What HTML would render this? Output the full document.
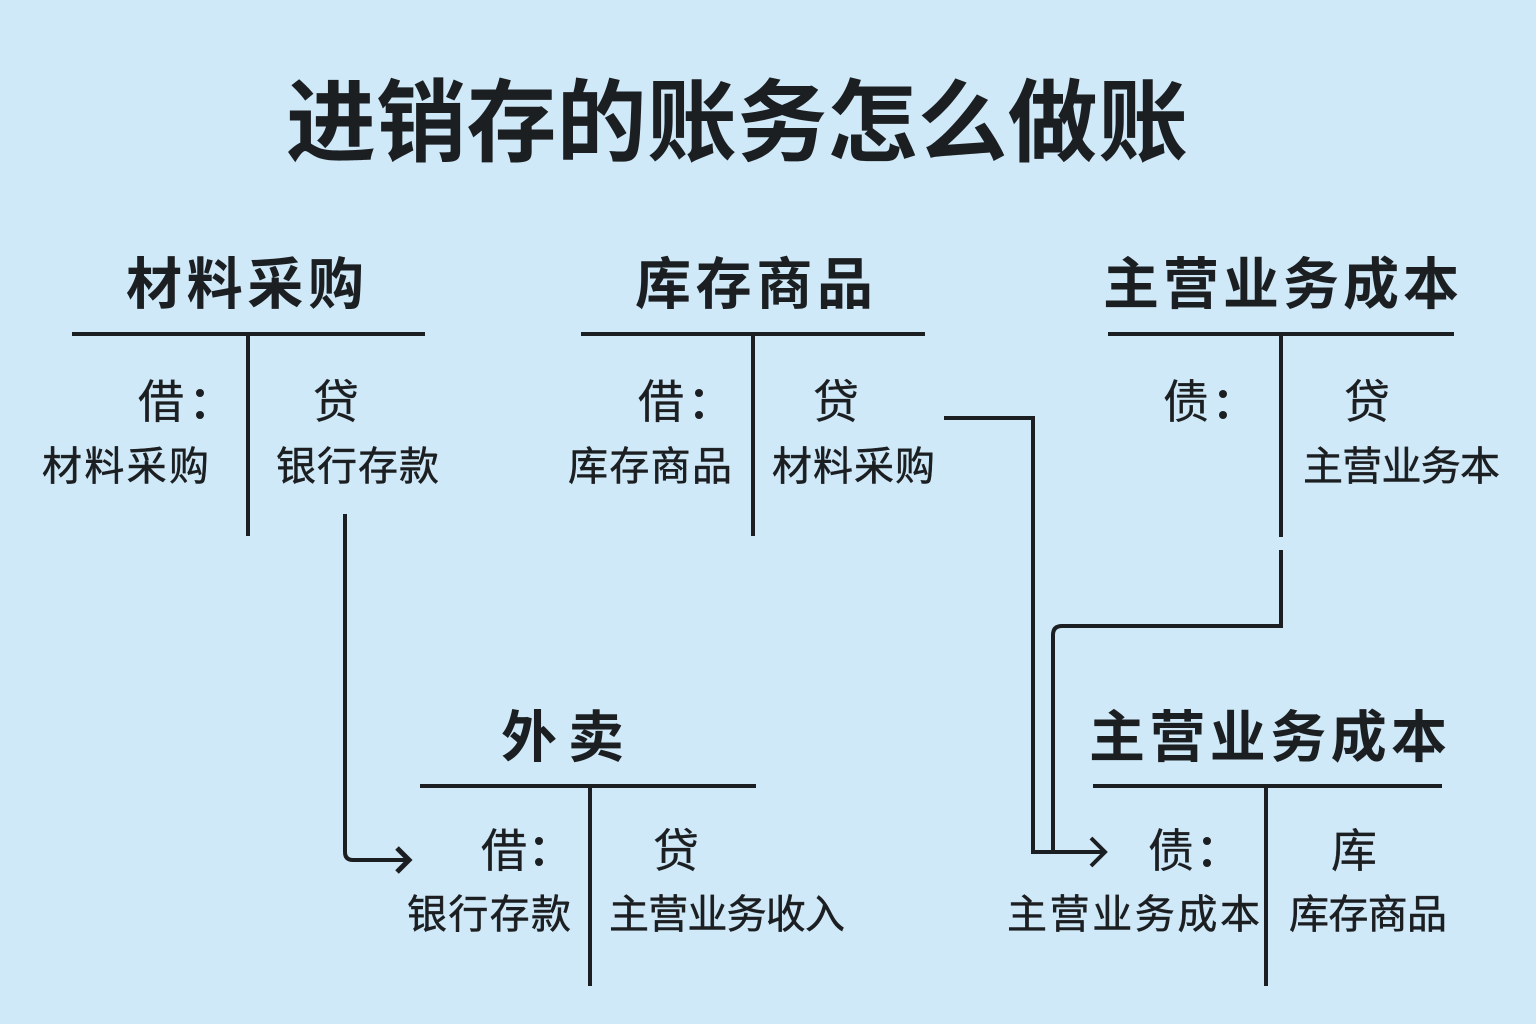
<!DOCTYPE html>
<html lang="zh">
<head>
<meta charset="utf-8">
<title>进销存的账务怎么做账</title>
<style>
html,body{margin:0;padding:0;width:1536px;height:1024px;overflow:hidden;background:#cfe9f8}
svg{display:block}
text{font-family:"Liberation Sans","Noto Sans CJK SC",sans-serif;fill:#1c1f22}
.t{font-size:90px;font-weight:700}
.h{font-size:56px;font-weight:700}
.m{font-size:46px;font-weight:400;stroke:#1c1f22;stroke-width:.3}
.b{font-size:40px;font-weight:400;stroke:#1c1f22;stroke-width:.5}
.l{fill:none;stroke:#1c1f22;stroke-width:4}
.d{fill:#1c1f22}
</style>
</head>
<body>
<svg xmlns="http://www.w3.org/2000/svg" width="1536" height="1024" viewBox="0 0 1536 1024">
<rect width="1536" height="1024" fill="#cfe9f8"/>

<text class="t" x="286" y="154" textLength="902" lengthAdjust="spacing">进销存的账务怎么做账</text>

<text class="h" x="126" y="304" textLength="238" lengthAdjust="spacing">材料采购</text>
<path class="l" d="M72 334H425M248 334V536"/>
<text class="m" x="138" y="418">借</text>
<circle class="d" cx="200" cy="393" r="4"/><circle class="d" cx="200" cy="415" r="4"/>
<text class="m" x="313" y="418">贷</text>
<text class="b" x="42" y="480" textLength="167" lengthAdjust="spacing">材料采购</text>
<text class="b" x="276" y="480" textLength="163" lengthAdjust="spacing">银行存款</text>

<text class="h" x="635" y="304" textLength="238" lengthAdjust="spacing">库存商品</text>
<path class="l" d="M581 334H925M753 334V536"/>
<text class="m" x="638" y="418">借</text>
<circle class="d" cx="699" cy="393" r="4"/><circle class="d" cx="699" cy="415" r="4"/>
<text class="m" x="813" y="418">贷</text>
<text class="b" x="568" y="480" textLength="164" lengthAdjust="spacing">库存商品</text>
<text class="b" x="772" y="480" textLength="163" lengthAdjust="spacing">材料采购</text>

<text class="h" x="1103" y="304" textLength="356" lengthAdjust="spacing">主营业务成本</text>
<path class="l" d="M1108 334H1454M1281 334V537"/>
<text class="m" x="1163" y="418">债</text>
<circle class="d" cx="1223" cy="394" r="4"/><circle class="d" cx="1223" cy="415" r="4"/>
<text class="m" x="1344" y="418">贷</text>
<text class="b" x="1303" y="480" textLength="197" lengthAdjust="spacing">主营业务本</text>

<text class="h" x="501" y="757" textLength="123" lengthAdjust="spacing">外卖</text>
<path class="l" d="M420 786H756M590 786V986"/>
<text class="m" x="481" y="867">借</text>
<circle class="d" cx="539" cy="841" r="4"/><circle class="d" cx="539" cy="862" r="4"/>
<text class="m" x="653" y="867">贷</text>
<text class="b" x="407" y="928" textLength="164" lengthAdjust="spacing">银行存款</text>
<text class="b" x="609" y="928" textLength="236" lengthAdjust="spacing">主营业务收入</text>

<text class="h" x="1089" y="757" textLength="358" lengthAdjust="spacing">主营业务成本</text>
<path class="l" d="M1093 786H1442M1266 786V986"/>
<text class="m" x="1148" y="867">债</text>
<circle class="d" cx="1207" cy="841" r="4"/><circle class="d" cx="1207" cy="863" r="4"/>
<text class="m" x="1331" y="867">库</text>
<text class="b" x="1007" y="928" textLength="253" lengthAdjust="spacing">主营业务成本</text>
<text class="b" x="1289" y="928" textLength="158" lengthAdjust="spacing">库存商品</text>

<path class="l" d="M345 514V852Q345 860 353 860H408"/>
<path class="l" d="M397 848L409 860L397 872" style="stroke-width:5"/>

<path class="l" d="M944 418H1033V852H1104"/>
<path class="l" d="M1281 550V626H1062Q1053 626 1053 635V852"/>
<path class="l" d="M1091 838L1105 852L1091 866"/>
</svg>
</body>
</html>
